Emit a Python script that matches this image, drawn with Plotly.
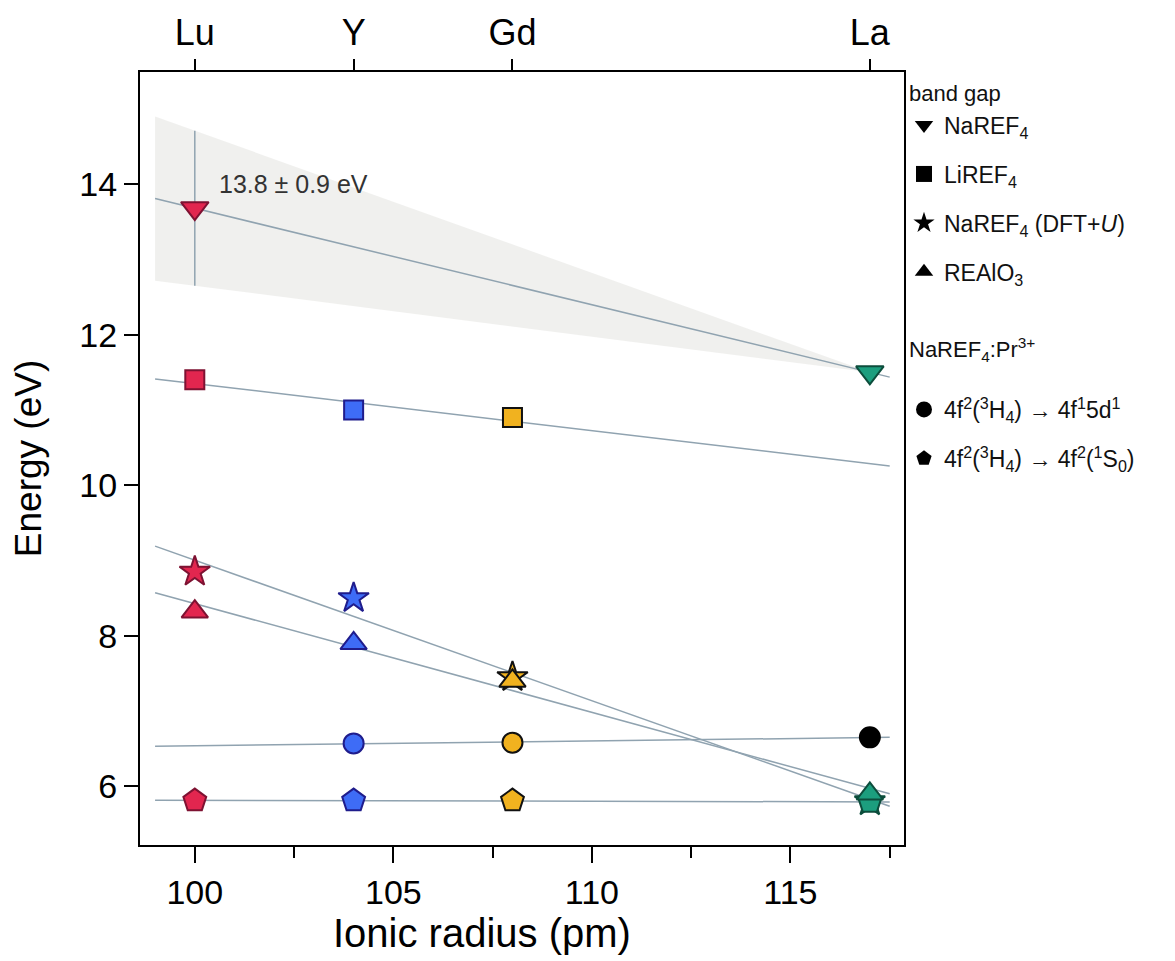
import numpy as np
import plotly.graph_objects as go

# ---------------- data ----------------
elements = ["Lu", "Y", "Gd", "La"]
radius = [100, 104, 108, 117]           # ionic radius (pm)
el_fill = ["#E2264F", "#3E6CF6", "#F1B21F", "#1C9E7E"]
el_edge = ["#7E1232", "#1F1C8C", "#111111", "#0C4D3C"]

# band gaps
naref4_x = [100, 117]
naref4_y = [13.68, 11.50]
naref4_err = [1.03, 0.0]
liref4_x = [100, 104, 108]
liref4_y = [11.40, 11.00, 10.90]
dft_x = [100, 104, 108, 117]
dft_y = [8.85, 8.50, 7.45, 5.80]
realo3_x = [100, 104, 108, 117]
realo3_y = [8.32, 7.90, 7.40, 5.90]
# NaREF4:Pr3+
fd_x = [104, 108, 117]
fd_y = [6.57, 6.58, 6.65]
fd_fill = ["#3E6CF6", "#F1B21F", "#000000"]
fd_edge = ["#1F1C8C", "#111111", "#000000"]
ff_x = [100, 104, 108, 117]
ff_y = [5.81, 5.81, 5.81, 5.79]

annot_text = "13.8 ± 0.9 eV"
top_ticks = radius
top_labels = elements
bottom_ticks = [100, 105, 110, 115]
left_ticks = [6, 8, 10, 12, 14]

x_range = [98.62, 117.86]
y_range = [5.22, 15.49]
fit_span = [99.0, 117.5]

LINE = "#90A3B0"
NARROW = "Liberation Sans Narrow, Arial Narrow, Liberation Sans, Arial"
SANS = "Liberation Sans, Arial, sans-serif"

def colors_for(xs):
    idx = [radius.index(v) for v in xs]
    return [el_fill[i] for i in idx], [el_edge[i] for i in idx]

fig = go.Figure()

# shaded uncertainty band (from Lu error limits converging to La)
xl, xr = naref4_x
yl, yr = naref4_y
e = naref4_err[0]
up_slope = (yr - (yl + e)) / (xr - xl)
lo_slope = (yr - (yl - e)) / (xr - xl)
x0 = fit_span[0]
band_x = [x0, xr, x0]
band_y = [yl + e + up_slope * (x0 - xl), yr, yl - e + lo_slope * (x0 - xl)]
fig.add_trace(go.Scatter(x=band_x, y=band_y, fill="toself", mode="lines",
                         line=dict(width=0), fillcolor="rgba(205,205,200,0.30)",
                         hoverinfo="skip", showlegend=False))

# fit lines
for xs, ys in [(naref4_x, naref4_y), (liref4_x, liref4_y), (dft_x, dft_y),
               (realo3_x, realo3_y), (fd_x, fd_y), (ff_x, ff_y)]:
    k, b = np.polyfit(xs, ys, 1)
    fx = np.array(fit_span)
    fig.add_trace(go.Scatter(x=fx, y=k * fx + b, mode="lines",
                             line=dict(color=LINE, width=1.5),
                             hoverinfo="skip", showlegend=False))

# error bar for NaREF4 (Lu)
fig.add_trace(go.Scatter(x=naref4_x[:1], y=naref4_y[:1], mode="markers",
                         marker=dict(size=1, color="rgba(0,0,0,0)"),
                         error_y=dict(type="data", array=naref4_err[:1], width=0,
                                      color=LINE, thickness=1.5),
                         showlegend=False, hoverinfo="skip"))

def add_series(xs, ys, symbol, size, fill=None, edge=None):
    f, ed = colors_for(xs)
    fig.add_trace(go.Scatter(x=xs, y=ys, mode="markers",
                             marker=dict(symbol=symbol, size=size, color=fill or f,
                                         line=dict(color=edge or ed, width=2)),
                             showlegend=False))

add_series(dft_x, dft_y, "star", 23)
add_series(ff_x, ff_y, "pentagon", 24)
add_series(fd_x, fd_y, "circle", 20, fd_fill, fd_edge)
add_series(realo3_x, realo3_y, "triangle-up", 23)
add_series(liref4_x, liref4_y, "square", 19)
add_series(naref4_x, naref4_y, "triangle-down", 24)

# legend entries (black symbols); each in its own group for spacing
leg = [
    ("g1", "band gap", "triangle-down", "NaREF<sub>4</sub>", 18),
    ("g2", None, "square", "LiREF<sub>4</sub>", 16),
    ("g3", None, "star", "NaREF<sub>4</sub> (DFT+<i>U</i>)", 21),
    ("g4", None, "triangle-up", "REAlO<sub>3</sub>", 18),
    ("g5", "<br>NaREF<sub>4</sub>:Pr<sup>3+</sup><br> ", "circle",
     "4f<sup>2</sup>(<sup>3</sup>H<sub>4</sub>) → 4f<sup>1</sup>5d<sup>1</sup>", 16),
    ("g6", None, "pentagon",
     "4f<sup>2</sup>(<sup>3</sup>H<sub>4</sub>) → 4f<sup>2</sup>(<sup>1</sup>S<sub>0</sub>)", 18),
]
for grp, gtitle, sym, name, sz in leg:
    kw = {}
    if gtitle:
        kw["legendgrouptitle"] = dict(text=gtitle, font=dict(size=22, color="#111"))
    fig.add_trace(go.Scatter(x=[None], y=[None], mode="markers", name=name,
                             legendgroup=grp,
                             marker=dict(symbol=sym, size=sz, color="black"), **kw))

# invisible trace for top axis
fig.add_trace(go.Scatter(x=[x_range[0]], y=[y_range[0]], xaxis="x2", mode="markers",
                         marker=dict(size=1, color="rgba(0,0,0,0)"),
                         showlegend=False, hoverinfo="skip"))

fig.add_annotation(x=100.55, y=14.0, xref="x", yref="y", text=annot_text,
                   showarrow=False, xanchor="left", yanchor="middle",
                   font=dict(size=25, color="#333333", family=SANS))

# x-axis title
fig.add_annotation(x=0.448, y=-0.114, xref="paper", yref="paper",
                   text="Ionic radius (pm)", showarrow=False,
                   xanchor="center", yanchor="middle",
                   font=dict(size=40, color="black", family=SANS))

fig.update_layout(
    width=1175, height=961,
    margin=dict(l=140, r=271, t=68, b=116),
    paper_bgcolor="white", plot_bgcolor="white",
    font=dict(family=SANS, color="black"),
    xaxis=dict(range=x_range, tickvals=bottom_ticks, ticks="outside", ticklen=16,
               tickwidth=2, tickcolor="black", showline=True, linewidth=2,
               linecolor="black", mirror=False, showgrid=False, zeroline=False,
               tickfont=dict(size=34, family=NARROW),
               minor=dict(tick0=100, dtick=2.5, ticks="outside", ticklen=11,
                          tickwidth=2, tickcolor="black")),
    xaxis2=dict(range=x_range, overlaying="x", side="top", tickvals=top_ticks,
                ticktext=top_labels, ticks="outside", ticklen=11, tickwidth=2,
                tickcolor="black", showline=True, linewidth=2, linecolor="black",
                showgrid=False, zeroline=False,
                tickfont=dict(size=36, family=NARROW)),
    yaxis=dict(range=y_range, tickvals=left_ticks, ticks="outside",
               ticklen=14, tickwidth=2, tickcolor="black", showline=True,
               linewidth=2, linecolor="black", mirror=True, showgrid=False,
               zeroline=False, tickfont=dict(size=34),
               title=dict(text="Energy (eV)", font=dict(size=37), standoff=26)),
    legend=dict(x=1.0, xanchor="left", y=1.0, yanchor="top",
                font=dict(size=23, color="#111"), tracegroupgap=16,
                itemwidth=30, bgcolor="rgba(0,0,0,0)"),
)

fig.write_html("out.html")
